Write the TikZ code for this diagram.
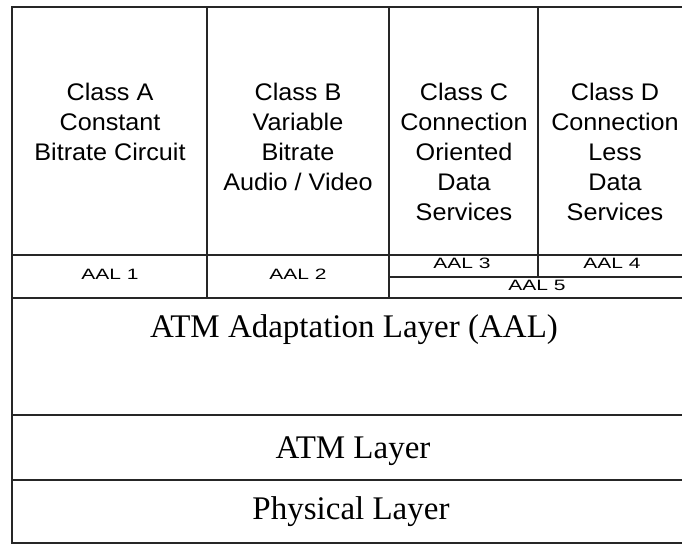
\documentclass[tikz,border=0pt]{standalone}
\usepackage{fontspec}
\setmainfont{Liberation Serif}
\newfontfamily\clsfont[FakeStretch=1.05]{Liberation Sans}
\newfontfamily\aalfont[FakeStretch=1.4]{Liberation Sans}
\begin{document}
\begin{tikzpicture}[x=1pt,y=-1pt,
  ln/.style={line width=1.4pt, draw=black!85},
  cls/.style={font=\clsfont\fontsize{24}{30}\selectfont, align=center, anchor=north, inner sep=0pt},
  aal/.style={font=\aalfont\fontsize{15}{15}\selectfont, anchor=base, inner sep=0pt},
  layer/.style={font=\fontsize{33}{33}\selectfont, anchor=base, inner sep=0pt}]
\useasboundingbox (0,0) rectangle (682,544);
\clip (0,0) rectangle (682,544);
\fill[white] (0,0) rectangle (682,544);
% outer frame
\draw[ln] (12,7) rectangle (695,543);
% horizontal rules
\draw[ln] (12,255) -- (695,255);
\draw[ln] (389,277) -- (695,277);
\draw[ln] (12,298) -- (695,298);
\draw[ln] (12,415) -- (695,415);
\draw[ln] (12,480) -- (695,480);
% vertical rules
\draw[ln] (207,7) -- (207,298);
\draw[ln] (389,7) -- (389,298);
\draw[ln] (538,7) -- (538,277);
% class texts
\node[cls] (classA) at (110,82.5) {Class A\\Constant\\Bitrate Circuit};
\node[cls] (classB) at (298,82.5) {Class B\\Variable\\Bitrate\\Audio / Video};
\node[cls] (classC) at (464,82.5) {Class C\\Connection\\Oriented\\Data\\Services};
\node[cls] (classD) at (615,82.5) {Class D\\Connection\\Less\\Data\\Services};
% AAL labels
\node[aal] (aal1) at (110,279) {AAL 1};
\node[aal] (aal2) at (298,279) {AAL 2};
\node[aal] (aal3) at (462,268) {AAL 3};
\node[aal] (aal4) at (612,268) {AAL 4};
\node[aal] (aal5) at (537,290) {AAL 5};
% layers
\node[layer] (aal) at (354,337) {ATM Adaptation Layer (AAL)};
\node[layer] (atm) at (353,458.5) {ATM Layer};
\node[layer] (phy) at (351,519) {Physical Layer};
\end{tikzpicture}
\end{document}
